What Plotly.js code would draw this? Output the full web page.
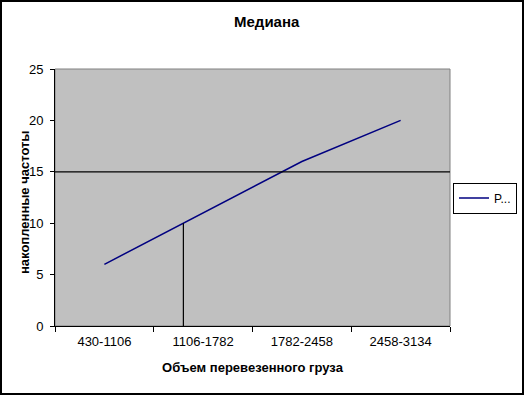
<!DOCTYPE html>
<html>
<head>
<meta charset="utf-8">
<script src="https://cdn.plot.ly/plotly-3.0.1.min.js"></script>
<style>html,body{margin:0;padding:0;background:#fff;overflow:hidden;}</style>
</head>
<body>
<div id="chart" style="width:525px;height:397px;"></div>
<script>
const categories = ["430-1106", "1106-1782", "1782-2458", "2458-3134"];
const cumFreq = [6, 11, 16, 20];
const seriesName = "P...";
const medianLevel = 10;
const refLevel = 15;
const yTicks = [0, 5, 10, 15, 20, 25];

// x position (category index) where the cumulative line reaches the median level
let medianX = 0;
for (let i = 0; i < cumFreq.length - 1; i++) {
  if (cumFreq[i] <= medianLevel && cumFreq[i + 1] >= medianLevel) {
    medianX = i + (medianLevel - cumFreq[i]) / (cumFreq[i + 1] - cumFreq[i]);
    break;
  }
}

const font = "Liberation Sans, Arial, sans-serif";

const trace = {
  x: categories,
  y: cumFreq,
  type: "scatter",
  mode: "lines",
  name: seriesName,
  line: { color: "#000080", width: 1.5 },
  showlegend: true
};

const L = 55, R = 75, T = 69, B = 71, W = 525, H = 397;
const PW = W - L - R, PH = H - T - B;
const px = v => (v - L) / PW;
const py = v => (H - B - v) / PH;

const layout = {
  width: W,
  height: H,
  margin: { l: L, r: R, t: T, b: B, autoexpand: false },
  paper_bgcolor: "#ffffff",
  plot_bgcolor: "#C0C0C0",
  font: { family: font, color: "#000", size: 13 },
  title: {
    text: "<b>Медиана</b>",
    font: { family: font, size: 15, color: "#000" },
    x: 0.508, xanchor: "center",
    y: 1 - 22 / H, yanchor: "middle"
  },
  xaxis: {
    type: "category",
    range: [-0.5, 3.5],
    tickson: "boundaries",
    ticks: "outside",
    ticklen: 5,
    tickcolor: "#000",
    ticklabelstandoff: 3,
    showline: true,
    linecolor: "#000",
    linewidth: 1,
    showgrid: false,
    zeroline: false,
    tickfont: { family: font, size: 13, color: "#000" },
    title: { text: "<b>Объем перевезенного груза</b>", font: { family: font, size: 13, color: "#000" }, standoff: 15 }
  },
  yaxis: {
    range: [0, 25],
    tickvals: yTicks,
    ticks: "outside",
    ticklen: 4,
    tickcolor: "#000",
    ticklabelstandoff: 4,
    showline: true,
    linecolor: "#000",
    linewidth: 1,
    showgrid: false,
    zeroline: false,
    tickfont: { family: font, size: 13, color: "#000" }
  },
  annotations: [
    { text: "<b>накопленные частоты</b>", xref: "paper", yref: "paper",
      x: px(25), y: py(203), xanchor: "center", yanchor: "middle", textangle: -90,
      showarrow: false, font: { family: font, size: 13, color: "#000" } }
  ],
  legend: {
    x: px(517), xanchor: "right",
    y: py(198), yanchor: "middle",
    bgcolor: "#ffffff",
    bordercolor: "#000",
    borderwidth: 1,
    font: { family: font, size: 12, color: "#000" },
    itemwidth: 30
  },
  shapes: [
    { type: "rect", xref: "paper", yref: "paper", x0: 0, x1: 1, y0: 0, y1: 1,
      line: { color: "#808080", width: 1 }, layer: "below" },
    { type: "line", xref: "paper", yref: "y", x0: 0, x1: 1, y0: refLevel, y1: refLevel,
      line: { color: "#000", width: 1.2 } },
    { type: "line", xref: "x", yref: "y", x0: medianX, x1: medianX, y0: 0, y1: medianLevel,
      line: { color: "#000", width: 1.2 } },
    { type: "rect", xref: "paper", yref: "paper",
      x0: px(1), x1: px(523), y0: py(394), y1: py(1),
      line: { color: "#000", width: 2 }, fillcolor: "rgba(0,0,0,0)" }
  ]
};

Plotly.newPlot("chart", [trace], layout, { displayModeBar: false, staticPlot: true });
</script>
</body>
</html>
